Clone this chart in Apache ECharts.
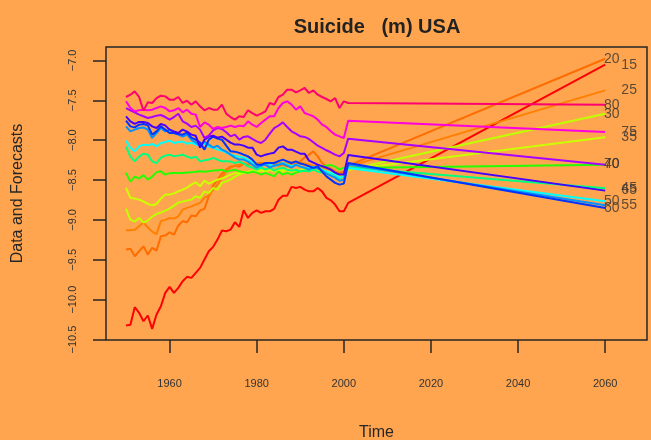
<!DOCTYPE html>
<html>
<head>
<meta charset="utf-8">
<script src="https://cdn.jsdelivr.net/npm/echarts@6/dist/echarts.min.js"></script>
<style>
  html, body { margin: 0; padding: 0; background: #FFA54F; }
  #chart { width: 651px; height: 440px; }
</style>
</head>
<body>
<div id="chart"></div>
<script>
// Log male suicide rates, USA, by age group: observed 1950-2000, forecast 2001-2060
const ages = ['15', '20', '25', '30', '35', '40', '45', '50', '55', '60', '65', '70', '75', '80'];
const firstYear = 1950;          // observed series run 1950..2000
const forecastYears = [2001, 2060];

const obs15 = [-10.325,-10.316,-10.095,-10.165,-10.271,-10.199,-10.366,-10.187,-10.083,-9.915,
  -9.840,-9.915,-9.852,-9.769,-9.714,-9.727,-9.664,-9.602,-9.497,-9.393,
  -9.338,-9.247,-9.134,-9.143,-9.122,-9.030,-9.088,-8.880,-8.975,-8.912,
  -8.880,-8.912,-8.892,-8.892,-8.862,-8.746,-8.696,-8.696,-8.586,-8.599,
  -8.586,-8.620,-8.642,-8.642,-8.599,-8.642,-8.724,-8.754,-8.808,-8.892,-8.892];
const obs20 = [-9.372,-9.363,-9.456,-9.393,-9.331,-9.435,-9.351,-9.385,-9.206,-9.197,
  -9.155,-9.184,-9.071,-9.018,-9.030,-8.946,-8.955,-8.880,-8.862,-8.704,
  -8.570,-8.495,-8.420,-8.370,-8.332,-8.320,-8.332,-8.294,-8.307,-8.282,
  -8.294,-8.282,-8.307,-8.320,-8.307,-8.320,-8.307,-8.328,-8.301,-8.286,
  -8.266,-8.219,-8.182,-8.140,-8.203,-8.286,-8.332,-8.357,-8.391,-8.411,-8.395];
const obs25 = [-9.130,-9.130,-9.125,-9.080,-9.030,-9.096,-9.147,-9.178,-9.015,-9.000,
  -8.975,-8.984,-8.955,-8.871,-8.850,-8.830,-8.808,-8.787,-8.721,-8.695,
  -8.620,-8.558,-8.470,-8.395,-8.345,-8.320,-8.307,-8.294,-8.313,-8.294,
  -8.307,-8.288,-8.294,-8.282,-8.301,-8.288,-8.282,-8.294,-8.282,-8.276,
  -8.282,-8.294,-8.307,-8.320,-8.332,-8.345,-8.357,-8.370,-8.395,-8.432,-8.407];
const obs30 = [-8.858,-8.996,-9.021,-8.977,-9.034,-9.009,-8.959,-8.925,-8.908,-8.883,
  -8.858,-8.821,-8.783,-8.771,-8.758,-8.746,-8.704,-8.724,-8.642,-8.662,
  -8.599,-8.620,-8.536,-8.516,-8.495,-8.457,-8.432,-8.411,-8.395,-8.382,
  -8.395,-8.370,-8.388,-8.370,-8.395,-8.382,-8.395,-8.376,-8.395,-8.382,
  -8.395,-8.376,-8.382,-8.370,-8.388,-8.395,-8.407,-8.420,-8.439,-8.470,-8.445];
const obs35 = [-8.599,-8.724,-8.733,-8.746,-8.767,-8.800,-8.817,-8.800,-8.733,-8.683,
  -8.683,-8.667,-8.642,-8.620,-8.595,-8.558,-8.529,-8.579,-8.508,-8.545,
  -8.520,-8.495,-8.482,-8.457,-8.432,-8.414,-8.411,-8.395,-8.407,-8.382,
  -8.401,-8.382,-8.395,-8.370,-8.388,-8.370,-8.382,-8.363,-8.382,-8.370,
  -8.376,-8.357,-8.370,-8.357,-8.370,-8.382,-8.395,-8.407,-8.420,-8.457,-8.432];
const obs40 = [-8.411,-8.520,-8.457,-8.482,-8.439,-8.495,-8.457,-8.401,-8.391,-8.432,
  -8.414,-8.411,-8.411,-8.411,-8.407,-8.404,-8.395,-8.391,-8.395,-8.391,
  -8.382,-8.376,-8.370,-8.395,-8.382,-8.370,-8.391,-8.401,-8.411,-8.395,
  -8.407,-8.432,-8.411,-8.432,-8.454,-8.395,-8.432,-8.411,-8.432,-8.407,
  -8.391,-8.382,-8.370,-8.345,-8.332,-8.328,-8.320,-8.313,-8.332,-8.370,-8.345];
const obs45 = [-8.081,-8.207,-8.266,-8.207,-8.169,-8.182,-8.266,-8.288,-8.219,-8.194,
  -8.182,-8.203,-8.194,-8.182,-8.207,-8.223,-8.207,-8.266,-8.251,-8.244,
  -8.223,-8.244,-8.266,-8.266,-8.269,-8.286,-8.269,-8.294,-8.328,-8.345,
  -8.370,-8.345,-8.370,-8.345,-8.382,-8.357,-8.345,-8.370,-8.382,-8.370,
  -8.395,-8.382,-8.395,-8.370,-8.395,-8.407,-8.395,-8.420,-8.445,-8.482,-8.457];
const obs50 = [-8.006,-8.098,-8.140,-8.078,-8.056,-8.065,-8.048,-8.078,-8.035,-8.023,
  -8.006,-8.035,-8.023,-8.019,-8.044,-8.031,-8.056,-8.069,-8.044,-8.081,
  -8.094,-8.119,-8.132,-8.157,-8.182,-8.194,-8.207,-8.219,-8.244,-8.282,
  -8.307,-8.328,-8.286,-8.307,-8.328,-8.307,-8.286,-8.307,-8.328,-8.307,
  -8.332,-8.348,-8.348,-8.332,-8.345,-8.370,-8.395,-8.407,-8.432,-8.470,-8.457];
const obs55 = [-7.827,-7.890,-7.868,-7.847,-7.840,-7.868,-7.972,-7.910,-7.847,-7.890,
  -7.868,-7.910,-7.931,-7.956,-7.931,-7.994,-8.031,-8.069,-8.019,-8.056,
  -8.094,-8.069,-8.119,-8.144,-8.182,-8.219,-8.244,-8.244,-8.269,-8.307,
  -8.345,-8.320,-8.307,-8.345,-8.320,-8.307,-8.294,-8.320,-8.345,-8.307,
  -8.332,-8.345,-8.370,-8.345,-8.357,-8.382,-8.420,-8.445,-8.470,-8.508,-8.495];
const obs60 = [-7.756,-7.827,-7.840,-7.806,-7.797,-7.815,-7.931,-7.890,-7.827,-7.868,
  -7.910,-7.910,-7.922,-7.931,-7.906,-7.969,-7.994,-8.031,-8.119,-7.994,
  -7.956,-7.981,-7.994,-8.069,-8.140,-8.144,-8.160,-8.182,-8.203,-8.244,
  -8.307,-8.307,-8.286,-8.286,-8.286,-8.263,-8.244,-8.266,-8.286,-8.266,
  -8.294,-8.307,-8.328,-8.348,-8.328,-8.395,-8.454,-8.495,-8.536,-8.558,-8.545];
const obs65 = [-7.702,-7.764,-7.797,-7.772,-7.772,-7.784,-7.827,-7.847,-7.797,-7.815,
  -7.868,-7.890,-7.910,-7.868,-7.893,-7.931,-7.944,-8.094,-7.994,-7.956,
  -7.944,-7.969,-7.956,-7.994,-8.031,-8.056,-8.056,-8.069,-8.094,-8.094,
  -8.182,-8.203,-8.182,-8.169,-8.157,-8.094,-8.078,-8.119,-8.119,-8.144,
  -8.169,-8.169,-8.257,-8.282,-8.307,-8.326,-8.345,-8.370,-8.407,-8.432,-8.432];
const obs70 = [-7.597,-7.626,-7.651,-7.680,-7.701,-7.722,-7.710,-7.693,-7.685,-7.710,
  -7.743,-7.710,-7.668,-7.764,-7.793,-7.835,-7.818,-7.868,-7.973,-7.944,
  -7.877,-7.848,-7.860,-7.902,-7.952,-7.931,-7.994,-7.960,-7.952,-7.985,
  -8.015,-8.036,-7.994,-7.919,-7.848,-7.818,-7.777,-7.835,-7.889,-7.919,
  -7.952,-7.960,-7.985,-8.027,-8.069,-8.098,-8.127,-8.152,-8.182,-8.203,-8.161];
const obs75 = [-7.513,-7.597,-7.639,-7.626,-7.618,-7.626,-7.618,-7.597,-7.576,-7.597,
  -7.639,-7.626,-7.597,-7.651,-7.618,-7.668,-7.680,-7.835,-7.777,-7.806,
  -7.860,-7.835,-7.848,-7.835,-7.818,-7.835,-7.818,-7.827,-7.764,-7.806,
  -7.835,-7.785,-7.743,-7.701,-7.701,-7.597,-7.534,-7.513,-7.555,-7.618,
  -7.576,-7.660,-7.680,-7.701,-7.743,-7.806,-7.835,-7.889,-7.931,-7.952,-7.973];
const obs80 = [-7.459,-7.430,-7.388,-7.459,-7.630,-7.526,-7.534,-7.472,-7.442,-7.451,
  -7.492,-7.492,-7.459,-7.534,-7.505,-7.555,-7.513,-7.576,-7.626,-7.597,
  -7.618,-7.618,-7.555,-7.668,-7.710,-7.743,-7.701,-7.710,-7.626,-7.660,
  -7.693,-7.668,-7.639,-7.534,-7.555,-7.459,-7.430,-7.367,-7.367,-7.401,
  -7.376,-7.346,-7.409,-7.376,-7.430,-7.459,-7.484,-7.513,-7.472,-7.597,-7.513];

// forecast values at 2001 and 2060 (straight-line forecasts)
const fc15 = [-8.787, -7.054];
const fc20 = [-8.320, -6.979];
const fc25 = [-8.332, -7.376];
const fc30 = [-8.370, -7.668];
const fc35 = [-8.370, -7.964];
const fc40 = [-8.348, -8.307];
const fc45 = [-8.341, -8.604];
const fc50 = [-8.348, -8.766];
const fc55 = [-8.307, -8.817];
const fc60 = [-8.286, -8.850];
const fc65 = [-8.186, -8.633];
const fc70 = [-7.981, -8.307];
const fc75 = [-7.756, -7.898];
const fc80 = [-7.534, -7.555];

const xTicks = [1960, 1980, 2000, 2020, 2040, 2060];
const yTicks = [-10.5, -10.0, -9.5, -9.0, -8.5, -8.0, -7.5, -7.0];

const observed = [obs15, obs20, obs25, obs30, obs35, obs40, obs45, obs50, obs55, obs60, obs65, obs70, obs75, obs80];
const forecasts = [fc15, fc20, fc25, fc30, fc35, fc40, fc45, fc50, fc55, fc60, fc65, fc70, fc75, fc80];

const colors = ['#FF0000', '#FF6D00', '#FF7F00', '#BFFF00', '#CCFF00', '#24FF00', '#00FF80',
  '#00FFFF', '#0092FF', '#0033FF', '#4400FF', '#AA00FF', '#FF00E0', '#FF0070'];

const ink = '#262626';
const font = 'Liberation Sans, Arial, Helvetica, sans-serif';

const lineSeries = ages.map((age, i) => ({
  name: age,
  type: 'line',
  showSymbol: false,
  symbol: 'none',
  silent: true,
  lineStyle: { color: colors[i], width: 2 },
  data: observed[i].map((v, k) => [firstYear + k, v])
    .concat(forecastYears.map((yr, k) => [yr, forecasts[i][k]]))
}));

// age labels beside the 2060 forecast values, staggered in two columns
const labelSeries = {
  type: 'scatter',
  silent: true,
  symbolSize: 1,
  itemStyle: { color: 'rgba(0,0,0,0)' },
  z: 5,
  label: {
    show: true,
    position: 'inside',
    color: '#333',
    fontSize: 14,
    fontFamily: font
  },
  labelLayout: { hideOverlap: false },
  data: ages.map((age, i) => ({
    value: [i % 2 === 0 ? 2065.5 : 2061.5, forecasts[i][1]],
    label: { formatter: age }
  }))
};

const chart = echarts.init(document.getElementById('chart'), null, { renderer: 'canvas' });
chart.setOption({
  animation: false,
  backgroundColor: '#FFA54F',
  title: {
    text: 'Suicide   (m) USA',
    left: 372,
    textAlign: 'center',
    top: 12,
    textStyle: { fontSize: 20, fontWeight: 'bold', color: '#222', fontFamily: font }
  },
  grid: {
    left: 106, right: 4, top: 47, bottom: 100,
    outerBoundsMode: 'none',
    containLabel: false,
    show: true, borderColor: ink, borderWidth: 1.5, backgroundColor: 'transparent'
  },
  xAxis: {
    type: 'value',
    min: 1945.4, max: 2069.6,
    name: 'Time',
    nameLocation: 'middle',
    nameGap: 85,
    nameTextStyle: { fontSize: 16, color: ink, fontFamily: font },
    splitLine: { show: false },
    axisLine: { show: false },
    axisTick: { show: true, length: 13, customValues: xTicks, lineStyle: { color: ink, width: 1.5 } },
    axisLabel: {
      customValues: xTicks, margin: 38, fontSize: 11, color: '#333', fontFamily: font,
      formatter: v => String(v)
    }
  },
  yAxis: {
    type: 'value',
    min: -10.506, max: -6.832,
    name: 'Data and Forecasts',
    nameLocation: 'middle',
    nameRotate: 90,
    nameGap: 80,
    nameTextStyle: { fontSize: 16, color: ink, fontFamily: font },
    splitLine: { show: false },
    axisLine: { show: false },
    axisTick: { show: true, length: 13, customValues: yTicks, lineStyle: { color: ink, width: 1.5 } },
    axisLabel: {
      customValues: yTicks,
      rotate: 90,
      margin: 28,
      fontSize: 11,
      color: '#333',
      fontFamily: font,
      formatter: v => v.toFixed(1).replace('-', '\u2212')
    }
  },
  series: lineSeries.concat([labelSeries])
});
</script>
</body>
</html>
